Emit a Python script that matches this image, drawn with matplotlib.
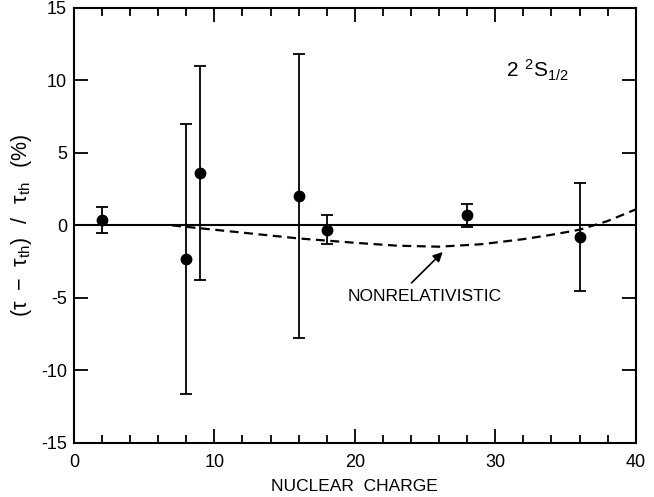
import numpy as np
import matplotlib.pyplot as plt
from matplotlib.ticker import MultipleLocator

plt.rcParams['font.family'] = ['Liberation Sans', 'DejaVu Sans']
plt.rcParams['axes.unicode_minus'] = False

# measured lifetimes, deviation from theory (%)
Z = [2, 8, 9, 16, 18, 28, 36]
dev = [0.4, -2.3, 3.6, 2.0, -0.3, 0.7, -0.8]
err = [0.9, 9.3, 7.4, 9.8, 1.0, 0.8, 3.7]

# nonrelativistic curve
Z_nr = [7, 10, 13, 16, 20, 23, 26, 29, 32, 34, 36, 38, 40]
dev_nr = [0.0, -0.3, -0.6, -0.9, -1.2, -1.4, -1.47, -1.3, -0.95, -0.65, -0.3, 0.3, 1.1]

fig = plt.figure(figsize=(6.54, 4.97), dpi=100)
ax = fig.add_axes([0.113, 0.109, 0.859, 0.875])

ax.axhline(0, color='k', lw=1.5)
ax.plot(Z_nr, dev_nr, 'k--', lw=1.6, dashes=(4, 2.5))
ax.errorbar(Z, dev, yerr=err, fmt='o', color='k', ms=7.5, elinewidth=1.3,
            capsize=4.5, capthick=1.3)

ax.annotate('', xy=(26.4, -1.7), xytext=(23.9, -4.1),
            arrowprops=dict(arrowstyle='-|>', color='k', lw=1.2, mutation_scale=14))
ax.text(19.5, -4.9, 'NONRELATIVISTIC', fontsize=12.5, va='center', ha='left')
ax.text(30.8, 10.7, r'$\mathregular{2\ ^2S_{1/2}}$', fontsize=15, va='center', ha='left')

ax.set_xlim(0, 40)
ax.set_ylim(-15, 15)
ax.xaxis.set_major_locator(MultipleLocator(10))
ax.xaxis.set_minor_locator(MultipleLocator(2))
ax.yaxis.set_major_locator(MultipleLocator(5))
ax.tick_params(which='both', direction='in', top=True, right=True, labelsize=13, width=1.3)
ax.tick_params(which='major', length=10, pad=5)
ax.tick_params(which='minor', length=6)
ax.tick_params(axis='x', which='major', pad=8)
for s in ax.spines.values():
    s.set_linewidth(1.5)

ax.set_xlabel('NUCLEAR  CHARGE', fontsize=12.5, labelpad=6)
ax.set_ylabel(r'$\mathregular{(\tau\ -\ \tau_{th})\ \ /\ \ \tau_{th}\ \ (\%)}$', fontsize=15.5, labelpad=5)

fig.savefig('out.png', dpi=100)
